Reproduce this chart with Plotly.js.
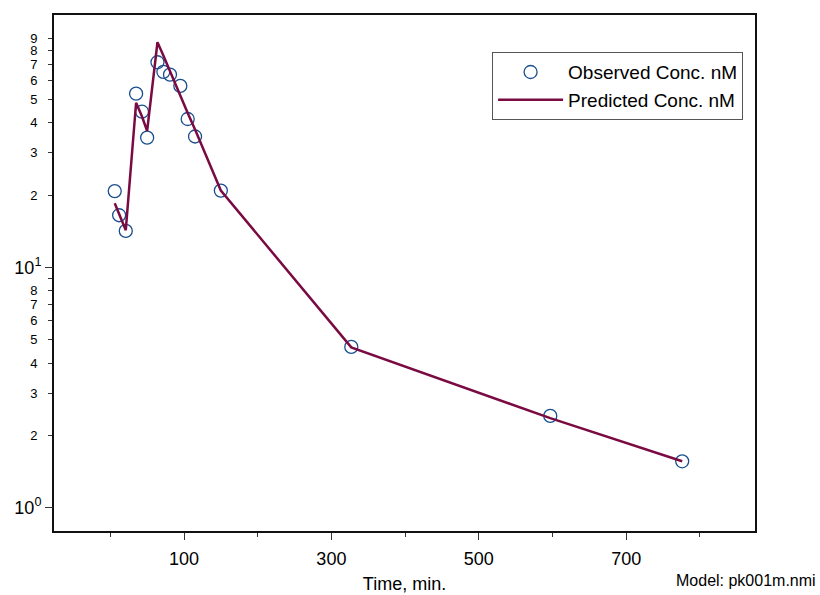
<!DOCTYPE html>
<html>
<head>
<meta charset="utf-8">
<script src="https://cdn.plot.ly/plotly-3.0.1.min.js"></script>
<style>html,body{margin:0;padding:0;background:#fff;}#chart{width:820px;height:595px;}</style>
</head>
<body>
<div id="chart"></div>
<script>
// Observed concentrations
const obsTime = [6, 12, 21, 35, 43, 50, 64, 72, 81, 95, 105, 115, 150, 327, 597, 776];
const obsConc = [20.8, 16.5, 14.2, 52.9, 44.5, 34.7, 71.5, 65.2, 63.5, 57, 41.5, 35.1, 20.9, 4.67, 2.41, 1.56];
// Predicted concentrations
const predTime = [6, 12, 21, 35, 43, 50, 64, 72, 81, 95, 105, 115, 150, 327, 597, 776];
const predConc = [18.5, 16.7, 14.3, 48.5, 42.5, 37, 86.6, 76.3, 65.6, 51.5, 44, 37.5, 20.9, 4.65, 2.36, 1.56];
// Axis ticks
const minorYVals = [2, 3, 4, 5, 6, 7, 8, 9, 20, 30, 40, 50, 60, 70, 80, 90];
const minorYText = ['2', '3', '4', '5', '6', '7', '8', '', '2', '3', '4', '5', '6', '7', '8', '9'];
const majorYVals = [1, 10];
const majorYText = ['10<sup>0</sup>', '10<sup>1</sup>'];

const FONT = 'Liberation Sans, Arial, sans-serif';

const traces = [
  {
    x: obsTime, y: obsConc, type: 'scatter', mode: 'markers', name: 'Observed Conc. nM',
    marker: {symbol: 'circle-open', size: 13, color: '#1a4f8f', line: {width: 1.3, color: '#1a4f8f'}}
  },
  {
    x: predTime, y: predConc, type: 'scatter', mode: 'lines', name: 'Predicted Conc. nM',
    line: {color: '#7a0a42', width: 2.5}
  },
  {
    x: [obsTime[0]], y: [obsConc[0]], yaxis: 'y2', type: 'scatter', mode: 'markers',
    showlegend: false, hoverinfo: 'skip', marker: {opacity: 0}
  }
];

const yRange = [-0.097, 2.051];

const layout = {
  width: 820, height: 595,
  margin: {l: 54, r: 65, t: 15, b: 64},
  paper_bgcolor: '#fff', plot_bgcolor: '#fff',
  font: {family: FONT, color: '#000'},
  showlegend: true,
  legend: {
    x: 0.983, y: 0.928, xanchor: 'right', yanchor: 'top',
    bgcolor: '#fff', bordercolor: '#555', borderwidth: 1,
    font: {family: FONT, size: 19, color: '#000'},
    itemwidth: 65, tracegroupgap: 0
  },
  xaxis: {
    range: [-76.4, 874.8],
    tickmode: 'linear', tick0: 100, dtick: 200,
    ticks: 'outside', ticklen: 7, tickwidth: 1, tickcolor: '#333',
    minor: {tickmode: 'linear', tick0: 0, dtick: 100, ticks: 'outside', ticklen: 4, tickwidth: 1, tickcolor: '#333', showgrid: false},
    showgrid: false, zeroline: false,
    showline: true, linecolor: '#111', linewidth: 2, mirror: true,
    tickfont: {family: FONT, size: 18, color: '#000'},
    ticklabelstandoff: 3,
    title: {text: 'Time, min.', font: {family: FONT, size: 18, color: '#000'}, standoff: 10}
  },
  yaxis: {
    type: 'log', range: yRange,
    tickmode: 'array', tickvals: minorYVals, ticktext: minorYText,
    ticks: 'outside', ticklen: 4, tickwidth: 1, tickcolor: '#333',
    showgrid: false, zeroline: false,
    showline: true, linecolor: '#111', linewidth: 2, mirror: true,
    tickfont: {family: FONT, size: 13, color: '#000'},
    ticklabelstandoff: 8
  },
  yaxis2: {
    type: 'log', range: yRange, overlaying: 'y', side: 'left', anchor: 'x',
    tickmode: 'array', tickvals: majorYVals, ticktext: majorYText,
    ticks: 'outside', ticklen: 8, tickwidth: 1, tickcolor: '#333',
    showgrid: false, zeroline: false, showline: false,
    tickfont: {family: FONT, size: 18, color: '#000'}
  },
  annotations: [
    {text: 'Model: pk001m.nmi', xref: 'paper', yref: 'paper', x: 1.0899, y: -0.095,
     xanchor: 'right', yanchor: 'middle', showarrow: false,
     font: {family: FONT, size: 16, color: '#000'}}
  ]
};

Plotly.newPlot('chart', traces, layout, {displayModeBar: false, staticPlot: true});
</script>
</body>
</html>
